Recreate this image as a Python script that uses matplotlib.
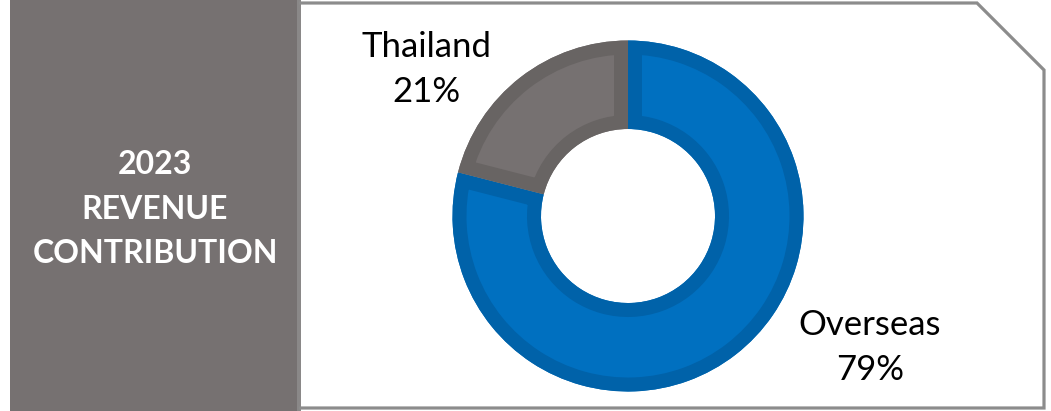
import matplotlib
matplotlib.use("Agg")
import matplotlib.pyplot as plt
from matplotlib.patches import Rectangle, Polygon, Wedge

# ---- data ----
categories = ["Overseas", "Thailand"]
shares = [79, 21]
title_lines = ["2023", "REVENUE", "CONTRIBUTION"]

# ---- styles ----
fill_colors = ["#0070C0", "#767171"]
edge_colors = ["#0062A9", "#686463"]
panel_color = "#767171"
border_color = "#8C8C8C"
FONT = "Lato"

W, H = 1051, 411
fig = plt.figure(figsize=(W / 100, H / 100), dpi=100)
ax = fig.add_axes([0, 0, 1, 1])
ax.set_xlim(0, W)
ax.set_ylim(0, H)
ax.set_aspect("equal")
ax.axis("off")

def Y(y):
    return H - y

# left panel
ax.add_patch(Rectangle((10, Y(411)), 288, 411, facecolor=panel_color, edgecolor="none", zorder=1))
ax.add_patch(Rectangle((297, Y(411)), 4, 411, facecolor="#8A8888", edgecolor="none", zorder=2))

# right panel outline with cut corner
pts = [(299, Y(3)), (977, Y(3)), (1044, Y(70)), (1044, Y(408)), (299, Y(408))]
ax.add_patch(Polygon(pts, closed=False, facecolor="none", edgecolor=border_color,
                     linewidth=2.3, joinstyle="miter", zorder=2))

# donut
cx, cy = 628, Y(216)
R, ring = 175.5, 88.5
wedges, _ = ax.pie(shares, colors=fill_colors, startangle=90, counterclock=False,
                   center=(cx, cy), radius=R, frame=True,
                   wedgeprops=dict(width=ring, linewidth=0))
ax.set_xlim(0, W)
ax.set_ylim(0, H)
ax.axis("off")

band_px = 14
for w, ec in zip(wedges, edge_colors):
    w.set_zorder(3)
    outline = Wedge(w.center, w.r, w.theta1, w.theta2, width=w.width,
                    facecolor="none", edgecolor=ec, linewidth=2 * band_px * 0.72,
                    joinstyle="miter", zorder=3.5)
    ax.add_patch(outline)
    outline.set_clip_path(w.get_path(), w.get_transform())

# labels
label_pos = {"Overseas": (870, 335, 380), "Thailand": (426, 57, 102)}
for cat, val in zip(categories, shares):
    x, y1, y2 = label_pos[cat]
    ax.text(x, Y(y1), cat, ha="center", va="baseline", fontsize=25, family=FONT, color="#000000", zorder=4)
    ax.text(x, Y(y2), f"{val}%", ha="center", va="baseline", fontsize=25, family=FONT, color="#000000", zorder=4)

# left title
for line, yb in zip(title_lines, [174, 219, 263]):
    ax.text(155, Y(yb), line, ha="center", va="baseline", fontsize=23, family=FONT,
            fontweight="bold", color="white", zorder=4)

fig.savefig("out.png", dpi=100)
